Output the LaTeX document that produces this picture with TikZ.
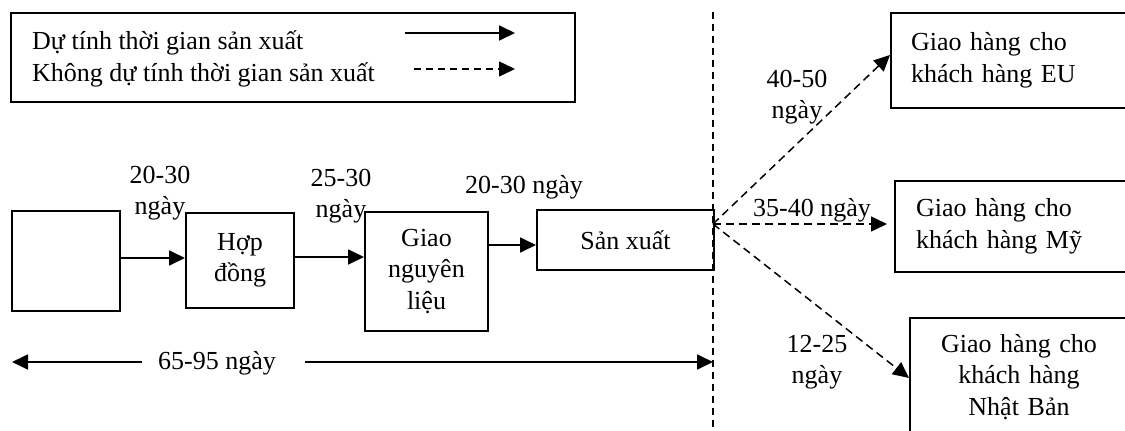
\documentclass[tikz,border=0pt]{standalone}
\usepackage{fontspec}
\setmainfont{Liberation Serif}
\usetikzlibrary{arrows.meta}
\begin{document}
\begin{tikzpicture}[x=1pt,y=-1pt,
  every node/.style={font=\fontsize{26}{31.5}\selectfont, inner sep=0pt},
  box/.style={draw, line width=2pt, align=center},
  tip/.style={-{Triangle[length=16pt,width=15pt]}},
  solidarr/.style={line width=1.8pt, tip},
  dasharr/.style={line width=1.5pt, dash pattern=on 8pt off 5pt, tip},
  lbl/.style={align=center}]
\useasboundingbox (0,0) rectangle (1125,431);
\clip (0,0) rectangle (1125,431);

% legend
\node[draw, line width=2pt, minimum width=564pt, minimum height=89pt, anchor=north west] (legend) at (10,12) {};
\node[anchor=base west] (leg1) at (32,49) {Dự tính thời gian sản xuất};
\node[anchor=base west] (leg2) at (32,81) {Không dự tính thời gian sản xuất};
\coordinate (s1a) at (405,33); \coordinate (s1b) at (515,33);
\coordinate (s2a) at (414,69); \coordinate (s2b) at (515,69);
\draw[solidarr] (s1a) -- (s1b);
\draw[line width=1.5pt, dash pattern=on 7pt off 5pt, tip] (s2a) -- (s2b);

% production chain
\node[box, minimum width=108pt, minimum height=100pt, anchor=north west] (start) at (11,210) {};
\node[box, minimum width=108pt, minimum height=95pt, anchor=north west] (hop) at (185,212) {Hợp\\đồng};
\node[box, minimum width=123pt, minimum height=119pt, anchor=north west] (nl) at (364,211) {Giao\\nguyên\\liệu};
\node[box, minimum width=177pt, minimum height=60pt, anchor=north west] (sx) at (536,209) {Sản xuất};

\coordinate (r1) at (0,258); \coordinate (r2) at (0,257); \coordinate (r3) at (0,245);
\draw[solidarr] (start.east |- r1) -- (hop.west |- r1);
\draw[solidarr] (hop.east |- r2) -- (nl.west |- r2);
\draw[solidarr] (nl.east |- r3) -- (sx.west |- r3);

\node[lbl] (t1) at (160,193) {20-30\\ngày};
\node[lbl] (t2) at (341,196) {25-30\\ngày};
\node (t3) at (524,187) {20-30 ngày};

% production / shipping divide
\coordinate (vtop) at (713,12); \coordinate (vbot) at (713,431);
\draw[line width=1.5pt, dash pattern=on 7pt off 5pt] (vtop) -- (vbot);
\coordinate (hub) at (713,224);

% shipping destinations
\node[box, align=left, text width=220pt, inner xsep=20pt, minimum height=95pt, anchor=north west] (eu) at (890,12) {Giao hàng cho\\khách hàng EU};
\node[box, align=left, text width=220pt, inner xsep=21pt, minimum height=91pt, anchor=north west] (us) at (894,180) {Giao hàng cho\\khách hàng Mỹ};
\node[box, text width=218pt, minimum height=118pt, anchor=north west] (jp) at (909,317) {Giao hàng cho\\khách hàng\\Nhật Bản};

\coordinate (c1) at (0,55); \coordinate (c3) at (0,378);
\draw[dasharr] (hub) -- (eu.west |- c1);
\draw[dasharr, shorten >=7pt] (hub) -- (us.west |- hub);
\draw[dasharr] (hub) -- (jp.west |- c3);

\node[lbl] (d1) at (797,97) {40-50\\ngày};
\node (d2) at (812,210) {35-40 ngày};
\node[lbl] (d3) at (817,362) {12-25\\ngày};

% total duration
\node (dur) at (217,363) {65-95 ngày};
\coordinate (dl) at (12,362);
\draw[solidarr, shorten <=16pt] (dur.west |- dl) -- (dl);
\draw[solidarr, shorten <=29pt] (dur.east |- dl) -- (vbot |- dl);
\end{tikzpicture}
\end{document}
